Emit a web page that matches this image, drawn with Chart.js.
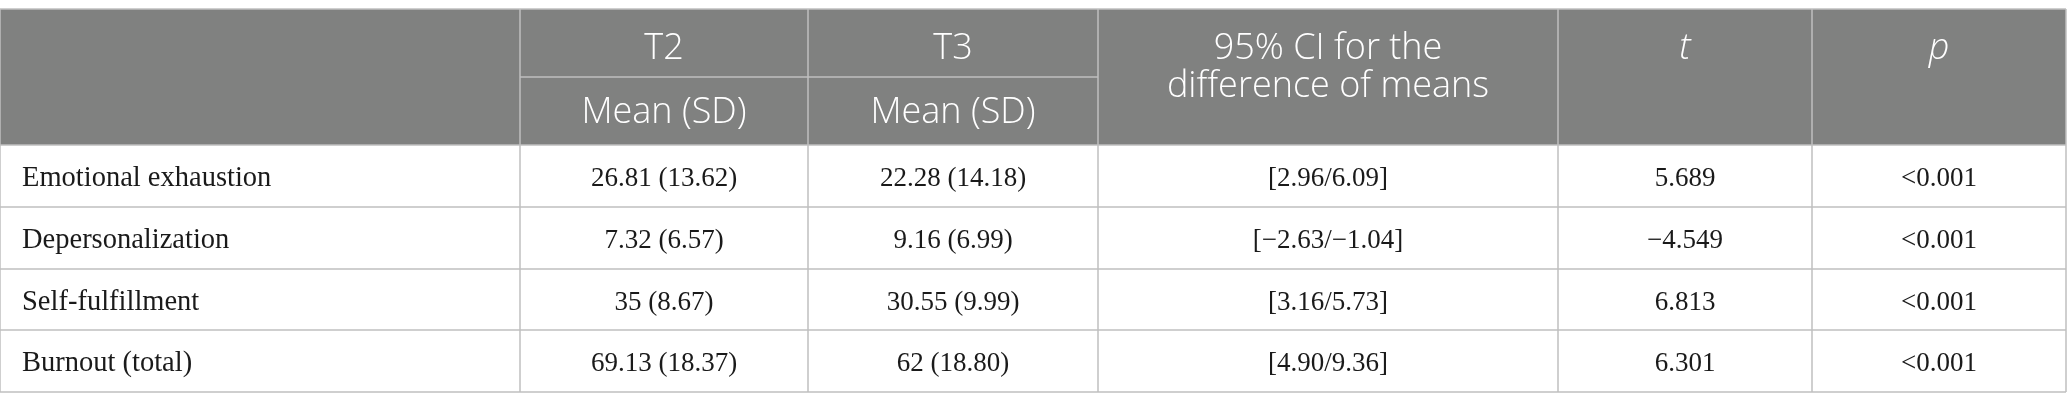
<!DOCTYPE html>
<html lang="en">
<head>
  <meta charset="UTF-8" />
  <title>Burnout T2 vs T3</title>
  <script src="https://cdn.jsdelivr.net/npm/chart.js"></script>
  <style>
    html, body { margin: 0; padding: 0; background: #fff; }
    #wrap { width: 2067px; height: 410px; }
  </style>
</head>
<body>
  <div id="wrap"><canvas id="table" width="2067" height="410"></canvas></div>

  <script>
    // table data
    const rowLabels = ['Emotional exhaustion', 'Depersonalization', 'Self-fulfillment', 'Burnout (total)'];
    const t2Mean = [26.81, 7.32, 35, 69.13];
    const t2SD = [13.62, 6.57, 8.67, 18.37];
    const t3Mean = [22.28, 9.16, 30.55, 62];
    const t3SD = [14.18, 6.99, 9.99, 18.80];
    const ciLow = [2.96, -2.63, 3.16, 4.90];
    const ciHigh = [6.09, -1.04, 5.73, 9.36];
    const tValues = [5.689, -4.549, 6.813, 6.301];
    const pValues = ['<0.001', '<0.001', '<0.001', '<0.001'];

    // layout (scale units)
    const colEdges = [0, 520, 808, 1098, 1558, 1812, 2066];
    const rowEdges = [9, 77, 145, 207, 269, 330, 392];

    const minus = s => s.replace('-', '\u2212');
    const fmt2 = v => minus(v.toFixed(2));

    const cells = rowLabels.map((lab, i) => [
      lab,
      `${t2Mean[i]} (${t2SD[i].toFixed(2)})`,
      `${t3Mean[i]} (${t3SD[i].toFixed(2)})`,
      `[${fmt2(ciLow[i])}/${fmt2(ciHigh[i])}]`,
      minus(tValues[i].toFixed(3)),
      pValues[i]
    ]);

    const headFont = '300 36px "Open Sans", sans-serif';
    const headItalic = 'italic 300 36px "Open Sans", sans-serif';
    const labelFont = '28.5px "Liberation Serif", serif';
    const numFont = '27px "Liberation Serif", serif';

    const tablePlugin = {
      id: 'tablePlugin',
      afterDraw(chart) {
        const { ctx, scales: { x, y } } = chart;
        const X = v => x.getPixelForValue(v);
        const Y = v => y.getPixelForValue(v);
        const left = X(colEdges[0]), right = X(colEdges[colEdges.length - 1]);
        const midX = c => (X(colEdges[c]) + X(colEdges[c + 1])) / 2;
        const midY = r => (Y(rowEdges[r]) + Y(rowEdges[r + 1])) / 2;

        ctx.save();
        // header background
        ctx.fillStyle = '#808180';
        ctx.fillRect(left, Y(rowEdges[0]), right - left, Y(rowEdges[2]) - Y(rowEdges[0]));

        // grid lines
        ctx.lineWidth = 1.5;
        ctx.strokeStyle = '#bfbfbf';
        const hline = (yv, x0, x1) => { ctx.beginPath(); ctx.moveTo(x0, yv); ctx.lineTo(x1, yv); ctx.stroke(); };
        const vline = (xv, y0, y1) => { ctx.beginPath(); ctx.moveTo(xv, y0); ctx.lineTo(xv, y1); ctx.stroke(); };
        hline(Y(rowEdges[0]), left, right);
        hline(Y(rowEdges[1]), X(colEdges[1]), X(colEdges[3]));
        for (let r = 2; r < rowEdges.length; r++) hline(Y(rowEdges[r]), left, right);
        colEdges.forEach(c => vline(X(c), Y(rowEdges[0]), Y(rowEdges[rowEdges.length - 1])));

        // header text
        ctx.fillStyle = '#ffffff';
        ctx.textAlign = 'center';
        ctx.textBaseline = 'alphabetic';
        ctx.font = headFont;
        const hb1 = Y(59), hb2 = Y(123);
        ctx.fillText('T2', midX(1), hb1);
        ctx.fillText('T3', midX(2), hb1);
        ctx.fillText('Mean (SD)', midX(1), hb2);
        ctx.fillText('Mean (SD)', midX(2), hb2);
        ctx.fillText('95% CI for the', midX(3), hb1);
        ctx.fillText('difference of means', midX(3), Y(97));
        ctx.font = headItalic;
        ctx.fillText('t', midX(4), hb1);
        ctx.fillText('p', midX(5), hb1);

        // body text
        ctx.fillStyle = '#1a1a1a';
        cells.forEach((row, i) => {
          const base = midY(i + 2) + 10;
          row.forEach((txt, c) => {
            if (c === 0) {
              ctx.font = labelFont;
              ctx.textAlign = 'left';
              ctx.fillText(txt, X(22), base);
            } else {
              ctx.font = numFont;
              ctx.textAlign = 'center';
              ctx.fillText(txt, midX(c), base);
            }
          });
        });
        ctx.restore();
      }
    };

    new Chart(document.getElementById('table'), {
      type: 'scatter',
      data: { datasets: [{ data: [] }] },
      options: {
        responsive: false,
        devicePixelRatio: 1,
        animation: false,
        layout: { padding: 0 },
        plugins: { legend: { display: false }, tooltip: { enabled: false } },
        scales: {
          x: { type: 'linear', min: 0, max: 2067, display: false },
          y: { type: 'linear', min: 0, max: 410, reverse: true, display: false }
        }
      },
      plugins: [tablePlugin]
    });
  </script>
</body>
</html>
